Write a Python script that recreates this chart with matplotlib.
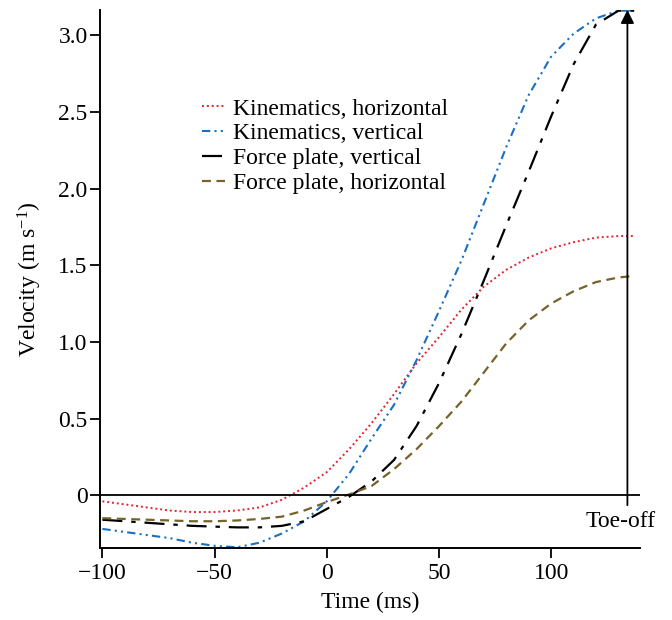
import numpy as np
import matplotlib
matplotlib.use('Agg')
import matplotlib.pyplot as plt

plt.rcParams['font.family'] = ['Liberation Serif', 'DejaVu Serif']
plt.rcParams['mathtext.fontset'] = 'custom'
plt.rcParams['mathtext.rm'] = 'Liberation Serif'
plt.rcParams['mathtext.it'] = 'Liberation Serif:italic'

# data
time_ms = [-100, -90, -80, -70, -60, -50, -40, -30, -20, -10, 0, 10, 20, 30,
           40, 50, 60, 70, 80, 90, 100, 110, 120, 130, 137]
kin_horizontal = [-0.04, -0.06, -0.08, -0.10, -0.11, -0.11, -0.10, -0.08, -0.03, 0.05,
                  0.15, 0.30, 0.47, 0.66, 0.86, 1.03, 1.21, 1.36, 1.47, 1.55,
                  1.61, 1.65, 1.68, 1.69, 1.69]
kin_vertical = [-0.22, -0.24, -0.26, -0.28, -0.31, -0.33, -0.34, -0.31, -0.25, -0.17,
                -0.04, 0.14, 0.37, 0.59, 0.88, 1.20, 1.53, 1.90, 2.27, 2.61,
                2.86, 3.01, 3.11, 3.16, 3.16]
fp_vertical = [-0.16, -0.17, -0.18, -0.19, -0.20, -0.205, -0.21, -0.21, -0.20, -0.17,
               -0.09, -0.01, 0.09, 0.23, 0.45, 0.73, 1.05, 1.40, 1.76, 2.11,
               2.47, 2.81, 3.07, 3.16, 3.16]
fp_horizontal = [-0.15, -0.155, -0.16, -0.165, -0.17, -0.17, -0.165, -0.155, -0.14, -0.10,
                 -0.045, 0.005, 0.06, 0.17, 0.30, 0.45, 0.61, 0.80, 0.99, 1.14,
                 1.25, 1.33, 1.39, 1.42, 1.43]
toe_off = 134

fig = plt.figure(figsize=(6.72, 6.2), dpi=100)
ax = fig.add_axes([0.149, 0.116, 0.803, 0.868])

ax.plot(time_ms, kin_horizontal, color='#e4222e', lw=1.4, ls=(0, (1, 1.5)),
        label='Kinematics, horizontal')
ax.plot(time_ms, kin_vertical, color='#1a6fc0', lw=1.5, ls=(0, (4, 2, 1, 2, 1, 2)),
        label='Kinematics, vertical')
ax.plot(time_ms, fp_vertical, color='black', lw=1.6, ls=(0, (9, 4, 2, 4)),
        label='Force plate, vertical')
ax.plot(time_ms, fp_horizontal, color='#77622a', lw=1.6, ls=(0, (4, 2.5)),
        label='Force plate, horizontal')

ax.axhline(0, color='black', lw=1.3)
ax.annotate('', xy=(toe_off, 3.165), xytext=(toe_off, -0.065),
            arrowprops=dict(arrowstyle='-|>', color='black', lw=1.3,
                            mutation_scale=20, shrinkA=0, shrinkB=0))
ax.text(toe_off - 3, -0.17, 'Toe-off', ha='center', va='center', fontsize=17)

ax.set_xlim(-101, 139.5)
ax.set_ylim(-0.345, 3.165)
ax.set_xticks([-100, -50, 0, 50, 100])
ax.set_yticks([0, 0.5, 1.0, 1.5, 2.0, 2.5, 3.0])
ax.set_yticklabels(['0', '0.5', '1.0', '1.5', '2.0', '2.5', '3.0'])
ax.tick_params(labelsize=17, width=1.3, length=7, direction='out')
ax.tick_params(axis='y', pad=2)
for s in ['top', 'right']:
    ax.spines[s].set_visible(False)
for s in ['left', 'bottom']:
    ax.spines[s].set_linewidth(1.4)

ax.set_xlabel('Time (ms)', fontsize=17, labelpad=6)
ax.set_ylabel('Velocity (m s$^{-1}$)', fontsize=17, labelpad=10)

fig.legend(loc='upper left', bbox_to_anchor=(0.287, 0.857), frameon=False,
           fontsize=17, handlelength=0.95, handletextpad=0.35, labelspacing=0.14,
           borderaxespad=0)

fig.savefig('out.png', dpi=100)
